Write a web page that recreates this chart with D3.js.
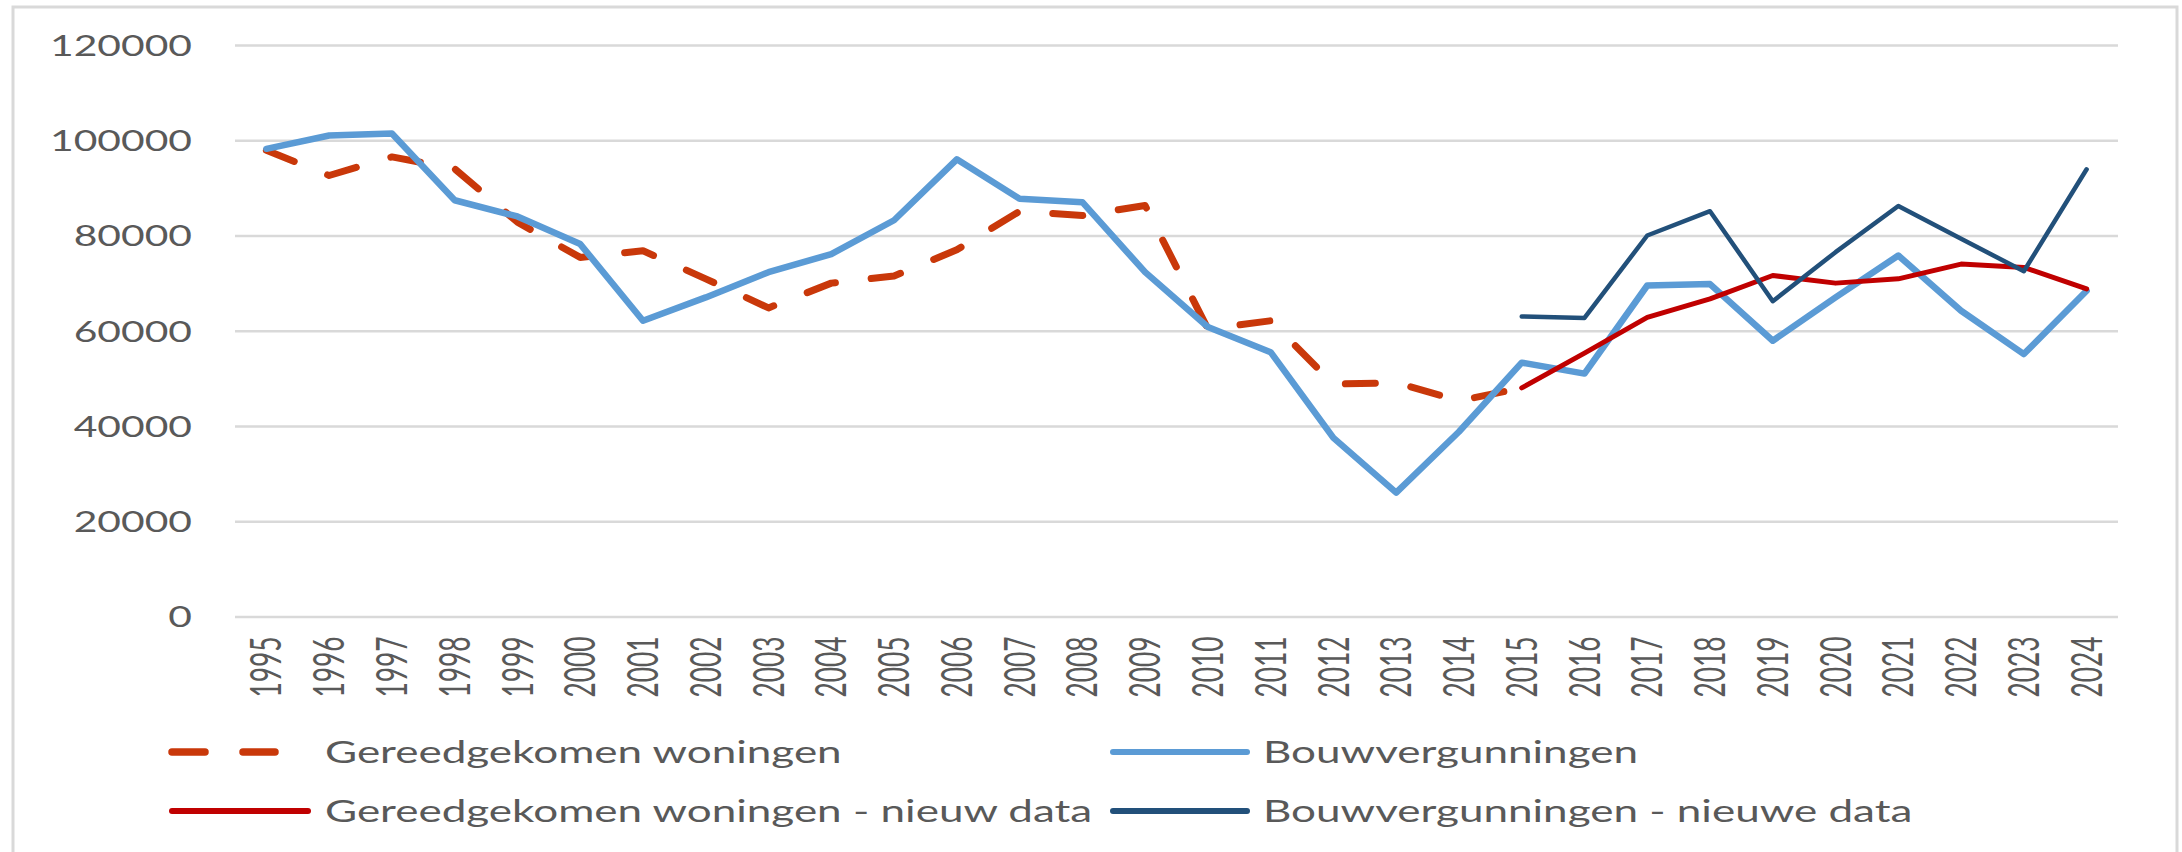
<!DOCTYPE html>
<meta charset="utf-8">
<style>
body { margin: 0; background: #fff; }
.chart text { font-family: Lato, "Open Sans", sans-serif; fill: #595959; }
.grid line { stroke: #d9d9d9; stroke-width: 2.5; }
.series { fill: none; stroke-linejoin: round; }
</style>
<svg class="chart"></svg>
<script src="https://d3js.org/d3.v7.min.js"></script>
<script>

// categories
var years = ["1995","1996","1997","1998","1999","2000","2001","2002","2003","2004",
             "2005","2006","2007","2008","2009","2010","2011","2012","2013","2014",
             "2015","2016","2017","2018","2019","2020","2021","2022","2023","2024"];
var yTicks = [0, 20000, 40000, 60000, 80000, 100000, 120000];

// series
var gereedYears = years.slice(0, 21);   // 1995 - 2015
var gereed = [97900, 92600, 96500, 94000, 82800, 75400, 76800, 70900, 64800, 70000,
              71500, 77000, 85100, 84200, 86300, 60400, 62100, 48800, 49100, 45300, 48000];

var bouwYears = years;                  // 1995 - 2024
var bouw = [98200, 101000, 101400, 87400, 84000, 78200, 62100, 67000, 72300, 76100,
            83200, 96000, 87700, 87000, 72300, 60800, 55500, 37500, 26000, 38800,
            53300, 51000, 69500, 69800, 57900, 67000, 75800, 64200, 55100, 68400];

var nieuwYears = years.slice(20);       // 2015 - 2024
var gereedNieuw = [48000, 55300, 62800, 66700, 71600, 70000, 70900, 74000, 73300, 68800];
var bouwNieuw   = [63000, 62700, 80000, 85100, 66200, 76500, 86200, 79300, 72500, 93900];

var seriesNames = ["Gereedgekomen woningen", "Bouwvergunningen",
                   "Gereedgekomen woningen - nieuw data", "Bouwvergunningen - nieuwe data"];

var W = 2182, H = 852;
var plot = {left: 235, right: 2118, top: 45, bottom: 616.5};

var svg = d3.select(".chart").attr("width", W).attr("height", H);

// chart frame
svg.append("rect")
  .attr("x", 13).attr("y", 7)
  .attr("width", 2164).attr("height", 900)
  .attr("fill", "#fff")
  .attr("stroke", "#d9d9d9")
  .attr("stroke-width", 3);

var x = d3.scaleBand().domain(years).range([plot.left, plot.right]);
var y = d3.scaleLinear().domain([0, 120000]).range([plot.bottom, plot.top]);
var cx = function(d) { return x(d) + x.bandwidth() / 2; };

// y axis + gridlines
var yAxis = svg.append("g")
  .attr("class", "grid")
  .attr("transform", "translate(" + plot.left + ",0)")
  .call(d3.axisLeft(y).tickValues(yTicks).tickFormat(d3.format("d"))
        .tickSize(-(plot.right - plot.left)).tickPadding(0));
yAxis.select(".domain").remove();

var yText = yAxis.selectAll("text")
  .attr("x", null).attr("dy", "0.36em")
  .style("font-size", "28.5px")
  .attr("text-anchor", "end");
var yLen = yText.filter(function(d) { return d === 120000; }).node().getComputedTextLength();
var ySx = 142 / yLen;
yText.attr("transform", "translate(-43,0) scale(" + ySx + ",1)");

// x axis labels
var xAxis = svg.append("g")
  .attr("transform", "translate(0," + plot.bottom + ")")
  .call(d3.axisBottom(x).tickSize(0).tickPadding(0));
xAxis.select(".domain").remove();

var xText = xAxis.selectAll("text")
  .attr("y", 0).attr("x", 0).attr("dy", "0.36em")
  .attr("text-anchor", "end")
  .style("font-size", "28px");
var xLen = xText.filter(function(d) { return d === "2021"; }).node().getComputedTextLength();
var xFs = 28 * 61 / xLen;
xText.style("font-size", xFs + "px");
var xSx = 30 / (0.7165 * xFs);
xText.attr("transform", "translate(0,20) scale(" + xSx + ",1) rotate(-90)");

// lines
function lineFor(cats) {
  return d3.line()
    .x(function(d, i) { return cx(cats[i]); })
    .y(function(d) { return y(d); });
}

var styles = [
  {color: "#c9380a", width: 7, dash: "30 36", cap: "round"},
  {color: "#5b9bd5", width: 6.5, dash: null, cap: "round"},
  {color: "#c00000", width: 5, dash: null, cap: "round"},
  {color: "#22507a", width: 4.5, dash: null, cap: "round"}
];

var series = [
  {cats: gereedYears, values: gereed},
  {cats: bouwYears, values: bouw},
  {cats: nieuwYears, values: gereedNieuw},
  {cats: nieuwYears, values: bouwNieuw}
];

series.forEach(function(s, i) {
  svg.append("path")
    .attr("class", "series")
    .attr("d", lineFor(s.cats)(s.values))
    .attr("stroke", styles[i].color)
    .attr("stroke-width", styles[i].width)
    .attr("stroke-dasharray", styles[i].dash)
    .attr("stroke-linecap", styles[i].cap);
});

// legend
var legendPos = [
  {x1: 172, x2: 275, tx: 325, y: 752},
  {x1: 1113, x2: 1247, tx: 1263, y: 752},
  {x1: 172, x2: 308, tx: 325, y: 811},
  {x1: 1113, x2: 1247, tx: 1263, y: 811}
];

var legend = svg.append("g");
var lText = [];
seriesNames.forEach(function(name, i) {
  var p = legendPos[i];
  legend.append("line")
    .attr("x1", p.x1).attr("x2", p.x2)
    .attr("y1", p.y).attr("y2", p.y)
    .attr("stroke", styles[i].color)
    .attr("stroke-width", i === 0 ? 7.5 : 6)
    .attr("stroke-dasharray", i === 0 ? "33 38" : null)
    .attr("stroke-linecap", "round");
  lText.push(legend.append("text")
    .attr("x", 0).attr("y", 0)
    .attr("dy", "0.36em")
    .style("font-size", "30px")
    .text(name));
});
var lLen = lText[1].node().getComputedTextLength();
var lSx = 375 / lLen;
lText.forEach(function(t, i) {
  var p = legendPos[i];
  t.attr("transform", "translate(" + p.tx + "," + p.y + ") scale(" + lSx + ",1)");
});

</script>
